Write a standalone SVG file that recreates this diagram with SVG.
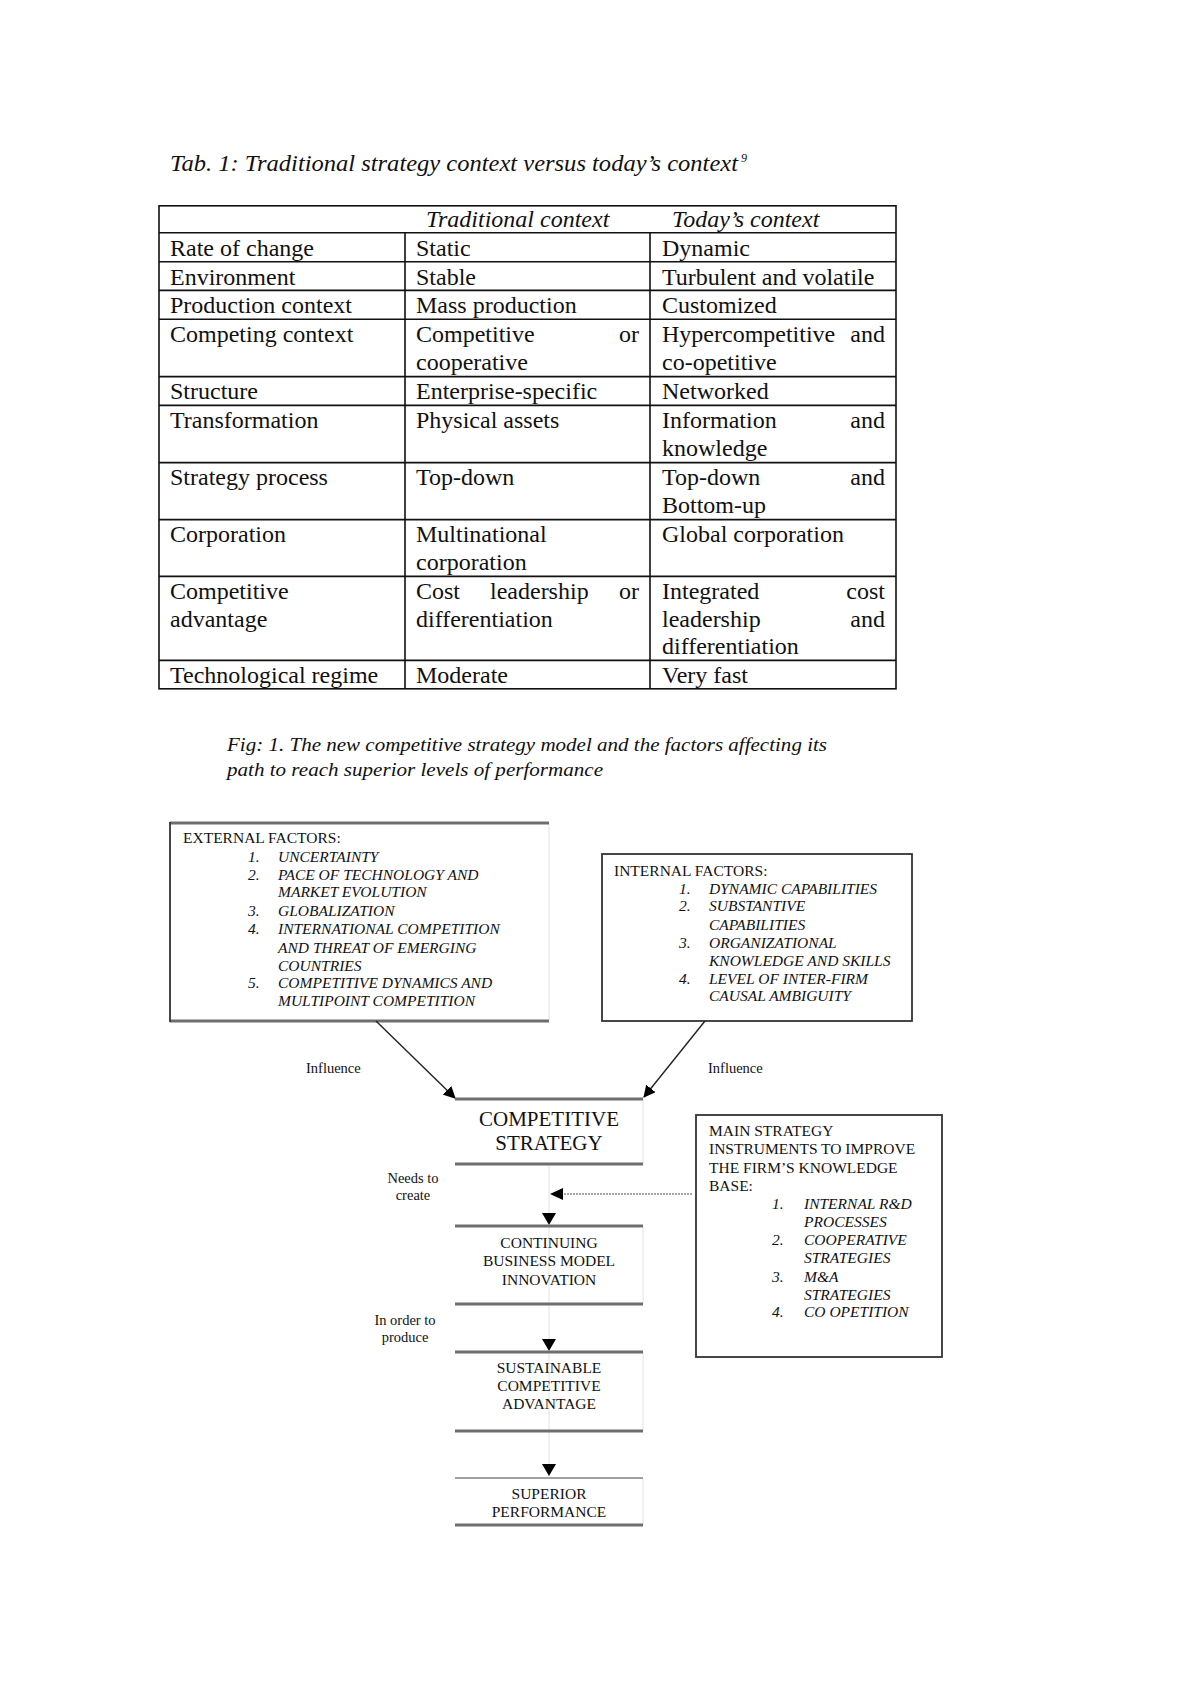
<svg xmlns="http://www.w3.org/2000/svg" width="1200" height="1698" viewBox="0 0 1200 1698">
<style>
.t{font-family:"Liberation Serif","Times New Roman",serif;fill:#111}
.tc{font-size:24px}
.hi{font-size:24px;font-style:italic}
.grid{stroke:#111;stroke-width:1.6;fill:none}
.bx{font-size:15.5px}
.it{font-style:italic}
.lbl{font-size:14.5px}
.node{font-size:15.5px;text-anchor:middle}
.thick{stroke:#6e6e6e;stroke-width:3}
.faint{stroke:#e2e2e2;stroke-width:1}
.border{stroke:#333;stroke-width:1.8;fill:none}
.conn{stroke:#222;stroke-width:1.4;fill:none}
</style>
<defs>
<marker id="ah" viewBox="0 0 12 12" refX="11" refY="6" markerWidth="12" markerHeight="12" markerUnits="userSpaceOnUse" orient="auto">
<path d="M0,0 L12,6 L0,12 Z" fill="#000"/>
</marker>
</defs>
<rect width="1200" height="1698" fill="#fff"/>

<!-- Table title -->
<g id="table-title">
<text class="t" x="170" y="171" font-size="23" font-style="italic" textLength="568" lengthAdjust="spacingAndGlyphs">Tab. 1: Traditional strategy context versus today’s context</text>
<text class="t" x="741" y="162" font-size="12" font-style="italic">9</text>
</g>

<!-- Table -->
<g id="table">
<rect class="grid" x="159" y="205.8" width="737" height="483"/>
<path class="grid" d="M159,232.8H896 M159,261.8H896 M159,290.4H896 M159,319.2H896 M159,376.6H896 M159,405.4H896 M159,462.6H896 M159,519.6H896 M159,576.4H896 M159,660.4H896 M405,232.8V688.8 M650,232.8V688.8"/>
<text class="t hi" x="426" y="227">Traditional context</text>
<text class="t hi" x="672" y="227">Today’s context</text>

<text class="t tc" x="170" y="256">Rate of change</text>
<text class="t tc" x="416" y="256">Static</text>
<text class="t tc" x="662" y="256">Dynamic</text>

<text class="t tc" x="170" y="284.5">Environment</text>
<text class="t tc" x="416" y="284.5">Stable</text>
<text class="t tc" x="662" y="284.5">Turbulent and volatile</text>

<text class="t tc" x="170" y="313">Production context</text>
<text class="t tc" x="416" y="313">Mass production</text>
<text class="t tc" x="662" y="313">Customized</text>

<text class="t tc" x="170" y="342">Competing context</text>
<text class="t tc" x="416" y="342">Competitive</text>
<text class="t tc" x="639" y="342" text-anchor="end">or</text>
<text class="t tc" x="416" y="369.5">cooperative</text>
<text class="t tc" x="662" y="342">Hypercompetitive</text>
<text class="t tc" x="885" y="342" text-anchor="end">and</text>
<text class="t tc" x="662" y="369.5">co-opetitive</text>

<text class="t tc" x="170" y="399">Structure</text>
<text class="t tc" x="416" y="399">Enterprise-specific</text>
<text class="t tc" x="662" y="399">Networked</text>

<text class="t tc" x="170" y="428">Transformation</text>
<text class="t tc" x="416" y="428">Physical assets</text>
<text class="t tc" x="662" y="428">Information</text>
<text class="t tc" x="885" y="428" text-anchor="end">and</text>
<text class="t tc" x="662" y="455.5">knowledge</text>

<text class="t tc" x="170" y="485">Strategy process</text>
<text class="t tc" x="416" y="485">Top-down</text>
<text class="t tc" x="662" y="485">Top-down</text>
<text class="t tc" x="885" y="485" text-anchor="end">and</text>
<text class="t tc" x="662" y="512.5">Bottom-up</text>

<text class="t tc" x="170" y="542">Corporation</text>
<text class="t tc" x="416" y="542">Multinational</text>
<text class="t tc" x="416" y="569.5">corporation</text>
<text class="t tc" x="662" y="542">Global corporation</text>

<text class="t tc" x="170" y="599">Competitive</text>
<text class="t tc" x="170" y="626.5">advantage</text>
<text class="t tc" x="416" y="599">Cost</text>
<text class="t tc" x="490" y="599">leadership</text>
<text class="t tc" x="639" y="599" text-anchor="end">or</text>
<text class="t tc" x="416" y="626.5">differentiation</text>
<text class="t tc" x="662" y="599">Integrated</text>
<text class="t tc" x="885" y="599" text-anchor="end">cost</text>
<text class="t tc" x="662" y="626.5">leadership</text>
<text class="t tc" x="885" y="626.5" text-anchor="end">and</text>
<text class="t tc" x="662" y="654">differentiation</text>

<text class="t tc" x="170" y="683">Technological regime</text>
<text class="t tc" x="416" y="683">Moderate</text>
<text class="t tc" x="662" y="683">Very fast</text>
</g>

<!-- Figure caption -->
<g id="figure-caption">
<text class="t" x="227" y="751" font-size="19.5" font-style="italic" textLength="600" lengthAdjust="spacingAndGlyphs">Fig: 1. The new competitive strategy model and the factors affecting its</text>
<text class="t" x="227" y="776" font-size="19.5" font-style="italic" textLength="376" lengthAdjust="spacingAndGlyphs">path to reach superior levels of performance</text>
</g>

<!-- External factors -->
<g id="external-factors">
<line class="faint" x1="549" y1="823" x2="549" y2="1021"/>
<line class="thick" x1="170" y1="823" x2="549" y2="823" stroke-width="2.4"/>
<line class="thick" x1="170" y1="1021" x2="549" y2="1021" stroke-width="2.4"/>
<line x1="170" y1="822" x2="170" y2="1022" stroke="#333" stroke-width="1.8"/>
<text class="t bx" x="183" y="843">EXTERNAL FACTORS:</text>
<text class="t bx it" x="248" y="862">1.</text><text class="t bx it" x="278" y="862">UNCERTAINTY</text>
<text class="t bx it" x="248" y="880">2.</text><text class="t bx it" x="278" y="880">PACE OF TECHNOLOGY AND</text>
<text class="t bx it" x="278" y="897">MARKET EVOLUTION</text>
<text class="t bx it" x="248" y="916">3.</text><text class="t bx it" x="278" y="916">GLOBALIZATION</text>
<text class="t bx it" x="248" y="934">4.</text><text class="t bx it" x="278" y="934">INTERNATIONAL COMPETITION</text>
<text class="t bx it" x="278" y="953">AND THREAT OF EMERGING</text>
<text class="t bx it" x="278" y="971">COUNTRIES</text>
<text class="t bx it" x="248" y="988">5.</text><text class="t bx it" x="278" y="988">COMPETITIVE DYNAMICS AND</text>
<text class="t bx it" x="278" y="1006">MULTIPOINT COMPETITION</text>
</g>

<!-- Internal factors -->
<g id="internal-factors">
<rect class="border" x="602" y="854" width="310" height="167"/>
<text class="t bx" x="614" y="876">INTERNAL FACTORS:</text>
<text class="t bx it" x="679" y="894">1.</text><text class="t bx it" x="709" y="894">DYNAMIC CAPABILITIES</text>
<text class="t bx it" x="679" y="911">2.</text><text class="t bx it" x="709" y="911">SUBSTANTIVE</text>
<text class="t bx it" x="709" y="930">CAPABILITIES</text>
<text class="t bx it" x="679" y="948">3.</text><text class="t bx it" x="709" y="948">ORGANIZATIONAL</text>
<text class="t bx it" x="709" y="966">KNOWLEDGE AND SKILLS</text>
<text class="t bx it" x="679" y="984">4.</text><text class="t bx it" x="709" y="984">LEVEL OF INTER-FIRM</text>
<text class="t bx it" x="709" y="1001">CAUSAL AMBIGUITY</text>
</g>

<!-- Main strategy instruments -->
<g id="main-strategy-instruments">
<rect class="border" x="696" y="1115" width="246" height="242"/>
<text class="t bx" x="709" y="1136">MAIN STRATEGY</text>
<text class="t bx" x="709" y="1154">INSTRUMENTS TO IMPROVE</text>
<text class="t bx" x="709" y="1172.5">THE FIRM’S KNOWLEDGE</text>
<text class="t bx" x="709" y="1191">BASE:</text>
<text class="t bx it" x="772" y="1209">1.</text><text class="t bx it" x="804" y="1209">INTERNAL R&amp;D</text>
<text class="t bx it" x="804" y="1227">PROCESSES</text>
<text class="t bx it" x="772" y="1245">2.</text><text class="t bx it" x="804" y="1245">COOPERATIVE</text>
<text class="t bx it" x="804" y="1263">STRATEGIES</text>
<text class="t bx it" x="772" y="1282">3.</text><text class="t bx it" x="804" y="1282">M&amp;A</text>
<text class="t bx it" x="804" y="1300">STRATEGIES</text>
<text class="t bx it" x="772" y="1316.5">4.</text><text class="t bx it" x="804" y="1316.5">CO OPETITION</text>
</g>

<!-- Connectors -->
<g id="connectors">
<line class="faint" x1="549" y1="1164" x2="549" y2="1478"/>
<line class="conn" x1="376" y1="1021" x2="455" y2="1098" marker-end="url(#ah)"/>
<line class="conn" x1="705" y1="1021" x2="644" y2="1097" marker-end="url(#ah)"/>
<line x1="692" y1="1194" x2="562" y2="1194" stroke="#8a8a8a" stroke-width="1.3" stroke-dasharray="2,1"/>
<path d="M550,1194 L563,1188 L563,1200 Z" fill="#000"/>
<path d="M542,1213 L556,1213 L549,1225 Z" fill="#000"/>
<path d="M542,1339 L556,1339 L549,1351 Z" fill="#000"/>
<path d="M542,1464 L556,1464 L549,1476 Z" fill="#000"/>
<text class="t lbl" x="306" y="1073">Influence</text>
<text class="t lbl" x="708" y="1073">Influence</text>
<text class="t lbl" x="413" y="1183" text-anchor="middle">Needs to</text>
<text class="t lbl" x="413" y="1200" text-anchor="middle">create</text>
<text class="t lbl" x="405" y="1325" text-anchor="middle">In order to</text>
<text class="t lbl" x="405" y="1342" text-anchor="middle">produce</text>
</g>

<!-- Flow nodes -->
<g id="competitive-strategy">
<line class="faint" x1="643" y1="1099" x2="643" y2="1164"/>
<line class="thick" x1="455" y1="1099" x2="643" y2="1099"/>
<line class="thick" x1="455" y1="1164" x2="643" y2="1164"/>
<text class="t" x="549" y="1126" font-size="21" text-anchor="middle">COMPETITIVE</text>
<text class="t" x="549" y="1150" font-size="21" text-anchor="middle">STRATEGY</text>
</g>

<g id="business-model-innovation">
<line class="faint" x1="643" y1="1226" x2="643" y2="1304"/>
<line class="thick" x1="455" y1="1226" x2="643" y2="1226"/>
<line class="thick" x1="455" y1="1304" x2="643" y2="1304"/>
<text class="t node" x="549" y="1247.5">CONTINUING</text>
<text class="t node" x="549" y="1266">BUSINESS MODEL</text>
<text class="t node" x="549" y="1284.5">INNOVATION</text>
</g>

<g id="sustainable-advantage">
<line class="faint" x1="643" y1="1352" x2="643" y2="1431"/>
<line class="thick" x1="455" y1="1352" x2="643" y2="1352"/>
<line class="thick" x1="455" y1="1431" x2="643" y2="1431"/>
<text class="t node" x="549" y="1373">SUSTAINABLE</text>
<text class="t node" x="549" y="1391">COMPETITIVE</text>
<text class="t node" x="549" y="1409">ADVANTAGE</text>
</g>

<g id="superior-performance">
<line class="faint" x1="643" y1="1478" x2="643" y2="1525"/>
<line x1="455" y1="1478" x2="643" y2="1478" stroke="#a0a0a0" stroke-width="2"/>
<line class="thick" x1="455" y1="1525" x2="643" y2="1525"/>
<text class="t node" x="549" y="1499">SUPERIOR</text>
<text class="t node" x="549" y="1517">PERFORMANCE</text>
</g>
</svg>
